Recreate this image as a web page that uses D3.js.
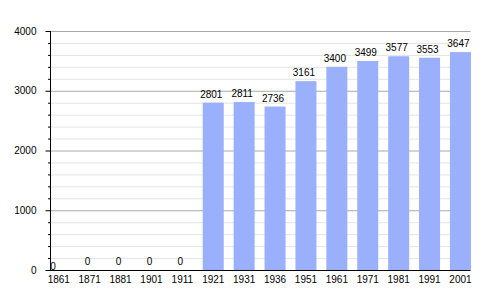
<!DOCTYPE html>
<html><head><meta charset="utf-8">
<script src="https://cdn.jsdelivr.net/npm/d3@7"></script>
<style>body{margin:0;background:#fff}svg{display:block}text{font-family:"Liberation Sans",Arial,sans-serif;font-size:10px;fill:#000}</style>
</head><body><svg id="c" width="500" height="300"></svg>
<script>
const years = ["1861","1871","1881","1901","1911","1921","1931","1936","1951","1961","1971","1981","1991","2001"];
const population = [0,0,0,0,0,2801,2811,2736,3161,3400,3499,3577,3553,3647];
const majorTicks = [0,1000,2000,3000,4000];

const svg = d3.select("#c");
const x = d3.scaleBand().domain(years).range([43.3,475.9]).paddingInner(0.32).paddingOuter(0.16);
const y = d3.scaleLinear().domain([0,4000]).range([270,31]);
const minor = d3.range(0,4001,200).filter(v=>v%1000!==0);

const g = svg.append("g");
g.selectAll(".mg").data(minor).enter().append("line")
  .attr("x1",50).attr("x2",470.5).attr("y1",d=>y(d)+0.5).attr("y2",d=>y(d)+0.5)
  .attr("stroke","#e4e4e4");
g.selectAll(".Mg").data(majorTicks.slice(1)).enter().append("line")
  .attr("x1",50).attr("x2",470.5).attr("y1",d=>y(d)+0.5).attr("y2",d=>y(d)+0.5)
  .attr("stroke","#a8a8a8");

g.selectAll("rect").data(population).enter().append("rect")
  .attr("x",(d,i)=>x(years[i])).attr("width",x.bandwidth())
  .attr("y",d=>y(d)).attr("height",d=>270-y(d)).attr("fill","#9bb0fd");

// axes
const ya = d3.axisLeft(y).tickValues(majorTicks).tickFormat(d3.format("d")).tickSize(5).tickPadding(9);
const yg = svg.append("g").attr("transform","translate(50.5,0)").call(ya);
yg.select(".domain").remove();
yg.selectAll("text").attr("font-size",10).style("font-family",'"Liberation Sans",Arial,sans-serif').attr("fill","#000");
yg.selectAll("line").attr("stroke","#000");
const ym = d3.axisLeft(y).tickValues(minor).tickSize(2.5).tickFormat("");
const ymg = svg.append("g").attr("transform","translate(50.5,0)").call(ym);
ymg.select(".domain").remove();
ymg.selectAll("line").attr("stroke","#000");
svg.append("line").attr("x1",50.5).attr("x2",50.5).attr("y1",31).attr("y2",270).attr("stroke","#000");
svg.append("line").attr("x1",50).attr("x2",470.5).attr("y1",270.5).attr("y2",270.5).attr("stroke","#000");

const xa = d3.axisBottom(x).tickSize(0).tickPadding(5);
const xg = svg.append("g").attr("transform","translate(0,271)").call(xa);
xg.select(".domain").remove();
xg.selectAll("text").attr("font-size",10).style("font-family",'"Liberation Sans",Arial,sans-serif').attr("fill","#000");

// value labels
svg.selectAll(".vl").data(population).enter().append("text")
  .attr("text-anchor","middle")
  .attr("x",(d,i)=> i===0 ? 53 : x(years[i])+x.bandwidth()/2-2)
  .attr("y",(d,i)=> i===0 ? 270 : y(d)-5)
  .text(d=>d);
</script></body></html>
